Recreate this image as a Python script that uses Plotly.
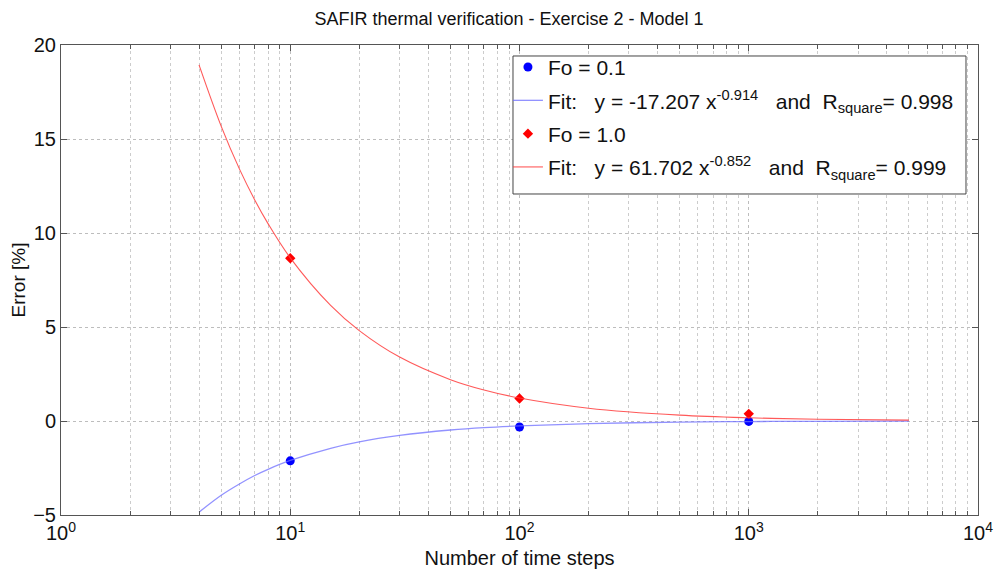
import plotly.graph_objects as go

# measured points
steps = [10, 100, 1000]
err_fo01 = [-2.12, -0.32, -0.02]
err_fo10 = [8.66, 1.20, 0.38]

# fitted curves
fit_x = [4, 5, 6, 7, 8, 10, 15, 20, 30, 50, 70, 100, 200, 500, 1000, 2000, 5000]
fit_fo01 = [-4.85, -3.95, -3.35, -2.90, -2.57, -2.10, -1.45, -1.11, -0.77, -0.48,
            -0.35, -0.26, -0.14, -0.06, -0.03, -0.017, -0.007]
fit_fo10 = [18.94, 15.67, 13.41, 11.76, 10.50, 8.68, 6.15, 4.81, 3.40, 2.20,
            1.65, 1.22, 0.68, 0.31, 0.17, 0.095, 0.044]

x_tickvals = [1, 10, 100, 1000, 10000]
x_ticktext = ["10<sup>0</sup>", "10<sup>1</sup>", "10<sup>2</sup>", "10<sup>3</sup>", "10<sup>4</sup>"]
x_minorvals = [m * d for d in [1, 10, 100, 1000] for m in range(2, 10)]
y_tickvals = [-5, 0, 5, 10, 15, 20]

FONT = "Liberation Sans, Arial, sans-serif"

fig = go.Figure()
fig.add_trace(go.Scatter(x=steps, y=err_fo01, mode="markers", name="Fo = 0.1", legendgroup="a",
                         marker=dict(color="#0000ff", size=9, symbol="circle")))
fig.add_trace(go.Scatter(x=fit_x, y=fit_fo01, mode="lines", line_shape="spline", legendgroup="b",
                         name="Fit:   y = -17.207 x<sup>-0.914</sup>   and  R<sub>square</sub>= 0.998",
                         line=dict(color="rgba(110,110,255,0.75)", width=1.3)))
fig.add_trace(go.Scatter(x=steps, y=err_fo10, mode="markers", name="Fo = 1.0", legendgroup="c",
                         marker=dict(color="#ff0000", size=8, symbol="diamond")))
fig.add_trace(go.Scatter(x=fit_x, y=fit_fo10, mode="lines", line_shape="spline", legendgroup="d",
                         name="Fit:   y = 61.702 x<sup>-0.852</sup>   and  R<sub>square</sub>= 0.999",
                         line=dict(color="rgba(255,60,60,0.85)", width=1.1)))

fig.update_xaxes(type="log", range=[0, 4], tickmode="array", tickvals=x_tickvals, ticktext=x_ticktext,
                 showline=True, linecolor="#555555", linewidth=1, mirror="ticks",
                 ticks="inside", ticklen=6, tickcolor="#555555", automargin=False,
                 showgrid=True, gridcolor="#bdbdbd", griddash="dot", gridwidth=1,
                 minor=dict(tickmode="array", tickvals=x_minorvals, ticks="inside", ticklen=4,
                            tickcolor="#555555", showgrid=True, gridcolor="#cccccc",
                            griddash="dot", gridwidth=1),
                 title=dict(text="Number of time steps", font=dict(size=20, color="#111"), standoff=7),
                 tickfont=dict(size=20, color="#111"), zeroline=False)
fig.update_yaxes(range=[-5, 20], tickmode="array", tickvals=y_tickvals,
                 showline=True, linecolor="#555555", linewidth=1, mirror="ticks",
                 ticks="inside", ticklen=6, tickcolor="#555555", automargin=False,
                 showgrid=True, gridcolor="#bdbdbd", griddash="dot", gridwidth=1,
                 title=dict(text="Error [%]", font=dict(size=19, color="#111"), standoff=7),
                 tickfont=dict(size=20, color="#111"), zeroline=False)

# legend frame
fig.add_shape(type="rect", xref="paper", yref="paper", x0=0.4929, x1=0.9869, y0=0.683, y1=0.9766,
              line=dict(color="#444444", width=1), fillcolor="white", layer="above")

fig.update_layout(
    width=1002, height=572,
    margin=dict(l=53, r=32, t=37, b=65),
    paper_bgcolor="white", plot_bgcolor="white",
    font=dict(family=FONT, color="#111"),
    title=dict(text="SAFIR thermal verification - Exercise 2 - Model 1",
               x=0.5, xanchor="center", y=0.981, yanchor="middle",
               font=dict(size=18, color="#111")),
    legend=dict(x=0.4874, y=0.996, xanchor="left", yanchor="top",
                bgcolor="rgba(0,0,0,0)", borderwidth=0,
                font=dict(size=21, color="#111"), tracegroupgap=3, itemwidth=30),
    showlegend=True,
)

fig.write_html("out.html")
